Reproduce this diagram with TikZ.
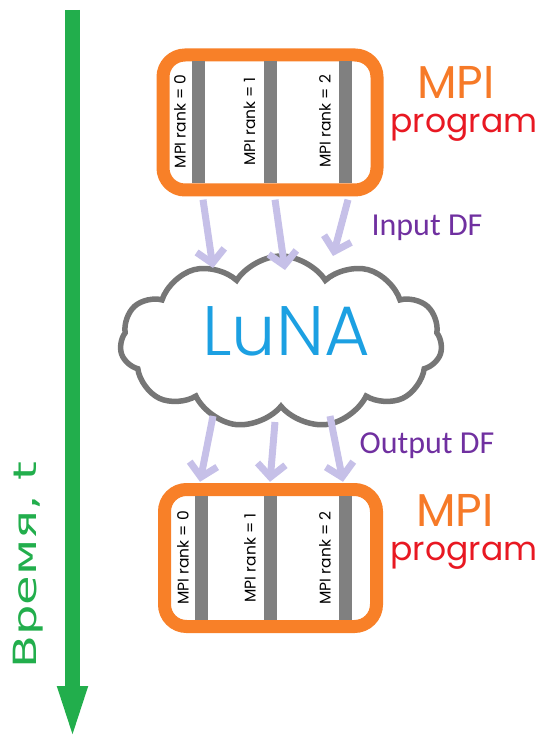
\documentclass[tikz,border=0pt]{standalone}
\usepackage{fontspec}
\setmainfont{DejaVu Sans}
\newfontfamily\gothic{Poppins}
\newfontfamily\gothiclight{Poppins Light}
\newfontfamily\calib{Carlito}
\usetikzlibrary{arrows.meta,positioning,calc,shapes.symbols}
\definecolor{timegreen}{RGB}{34,174,76}
\definecolor{boxorange}{RGB}{248,128,40}
\definecolor{rankgray}{RGB}{128,128,128}
\definecolor{flowlilac}{RGB}{198,192,232}
\definecolor{dfpurple}{RGB}{112,48,160}
\definecolor{lunablue}{RGB}{28,160,226}
\definecolor{cloudgray}{RGB}{118,118,118}
\definecolor{progred}{RGB}{232,24,34}
\definecolor{mpiorange}{RGB}{246,122,40}

\begin{document}
\begin{tikzpicture}[x=1pt, y=-1pt,
  prog/.style={draw=boxorange, line width=13pt, rounded corners=22pt, fill=white},
  bar/.style={fill=rankgray, minimum width=13pt, inner sep=0pt},
  rank/.style={rotate=90, font=\gothic\fontsize{15.5}{15.5}\selectfont, inner sep=0pt},
  flow/.style={draw=flowlilac, line width=7pt, -{Straight Barb[length=13pt,width=28pt]}},
  df/.style={font=\calib\fontsize{32}{32}\selectfont, text=dfpurple, inner sep=0pt},
  mpi/.style={font=\gothic\fontsize{46}{46}\selectfont, text=mpiorange, inner sep=0pt, anchor=base},
  progtxt/.style={font=\gothic\fontsize{33}{33}\selectfont, text=progred, inner sep=0pt, anchor=base},
  timearrow/.style={draw=timegreen, line width=15pt, -{Triangle[width=25pt,length=62pt]}}
]
\useasboundingbox (0,0) rectangle (539,751);

% time axis
\coordinate (tstart) at (72.5,10);
\coordinate (tend) at (72.5,748);
\draw[timearrow] (tstart) -- (tend);
\node[rotate=90, xscale=1.5, font=\fontsize{32}{32}\selectfont, text=timegreen, inner sep=0pt] (timelbl) at (28,565) {Время, t};

% MPI program before LuNA
\node[prog, minimum width=214pt, minimum height=135pt] (top) at (270,122.5) {};
\foreach \r/\bx/\tx in {0/198/180,1/270/249.5,2/345/325} {
  \node[bar, minimum height=122pt] (tb\r) at (\bx,122.5) {};
  \node[rank] (tr\r) at (\tx,121.5) {MPI rank = \r};
}
\node[mpi] (mpitop) at (456,99) {MPI};
\node[progtxt] (progtop) at (464,133) {program};

% LuNA cloud
\node[cloud, cloud puffs=11, cloud puff arc=115, aspect=1.9, draw=cloudgray, line width=5.5pt, fill=white, minimum width=322pt, minimum height=172pt] (luna) at (281,342) {};
\node[font=\gothiclight\fontsize{70}{70}\selectfont, text=lunablue, inner sep=0pt] (lunaname) at ($(luna.center)+(5,-11)$) {LuNA};

% input data fragments
\coordinate (in0) at (213,268);
\coordinate (in1) at (285,270);
\coordinate (in2) at (333,256);
\draw[flow] ($(tb0.south)+(5,16)$) -- (in0);
\draw[flow] ($(tb1.south)+(5,16)$) -- (in1);
\draw[flow] ($(tb2.south)+(3,16)$) -- (in2);
\node[df] (indf) at (427,228) {Input DF};

% MPI program after LuNA
\node[prog, minimum width=212pt, minimum height=137pt] (bot) at (270.5,558) {};
\foreach \r/\bx/\tx in {0/201/183,1/270/250,2/345/325} {
  \node[bar, minimum height=124pt] (bb\r) at (\bx,558) {};
  \node[rank] (br\r) at (\tx,558) {MPI rank = \r};
}
\node[mpi] (mpibot) at (455,526) {MPI};
\node[progtxt] (progbot) at (464,560) {program};

% output data fragments
\coordinate (out0) at (213,416);
\coordinate (out1) at (275,422);
\coordinate (out2) at (330,416);
\draw[flow] (out0) -- ($(bb0.north)+(-1,-14)$);
\draw[flow] (out1) -- ($(bb1.north)+(0,-14)$);
\draw[flow] (out2) -- ($(bb2.north)+(-2,-14)$);
\node[df] (outdf) at (427,446) {Output DF};
\end{tikzpicture}
\end{document}
